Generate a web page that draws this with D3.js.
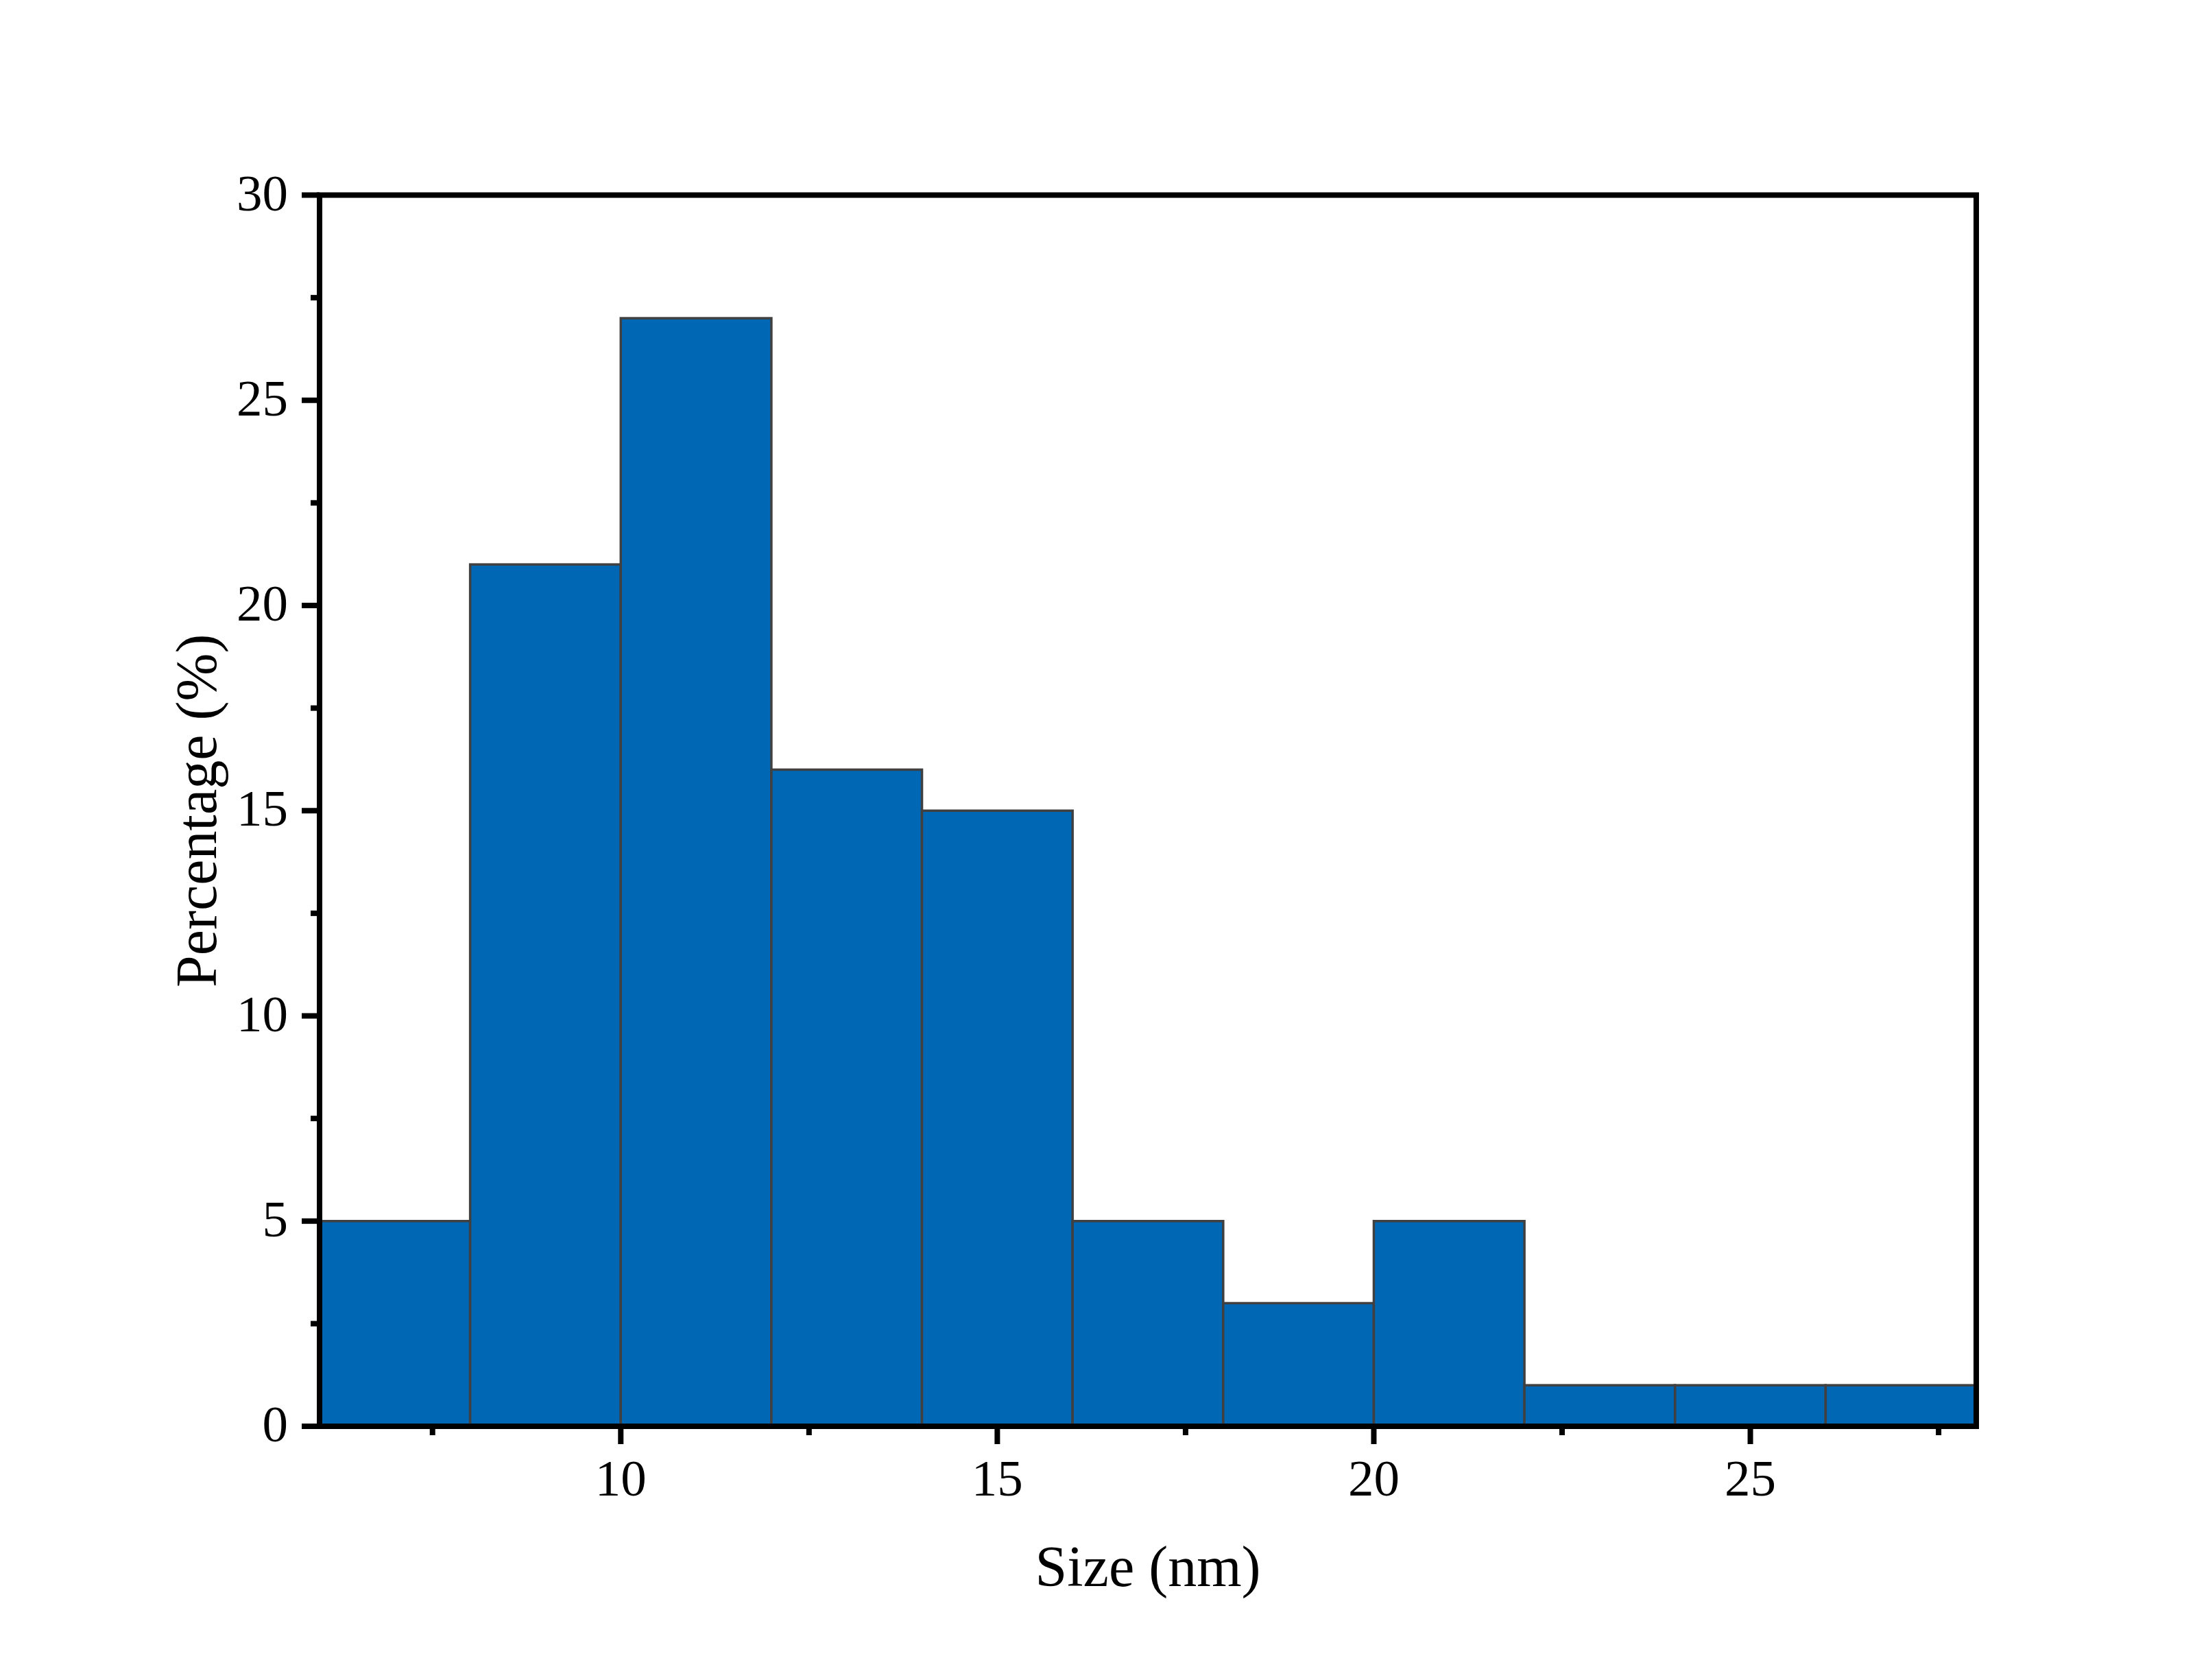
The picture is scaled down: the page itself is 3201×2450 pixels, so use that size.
<!DOCTYPE html>
<html><head><meta charset="utf-8">
<script src="https://cdn.jsdelivr.net/npm/d3@7"></script>
<style>html,body{margin:0;padding:0;background:#fff;}</style>
</head><body>
<svg id="chart" width="3201" height="2450"></svg>
<script>
const binStarts = [6, 8, 10, 12, 14, 16, 18, 20, 22, 24, 26];
const binWidth = 2;
const percentages = [5, 21, 27, 16, 15, 5, 3, 5, 1, 1, 1];
const xTicks = [10, 15, 20, 25];
const xMinorTicks = [7.5, 12.5, 17.5, 22.5, 27.5];
const yTicks = [0, 5, 10, 15, 20, 25, 30];
const yMinorTicks = [2.5, 7.5, 12.5, 17.5, 22.5, 27.5];
const xTitle = "Size (nm)";
const yTitle = "Percentage (%)";

const svg = d3.select("#chart");
const L = 466, R = 2882, T = 284.5, B = 2080;
const x = d3.scaleLinear().domain([6, 28]).range([L, R]);
const y = d3.scaleLinear().domain([0, 30]).range([B, T]);
const font = "'Liberation Serif','Times New Roman',serif";

// bars
svg.append("g").selectAll("rect").data(binStarts).join("rect")
  .attr("x", d => x(d))
  .attr("y", (d, i) => y(percentages[i]))
  .attr("width", d => x(d + binWidth) - x(d))
  .attr("height", (d, i) => y(0) - y(percentages[i]))
  .attr("fill", "#0067B5")
  .attr("stroke", "#404040")
  .attr("stroke-width", 3.5);

// frame
svg.append("rect").attr("x", L).attr("y", T).attr("width", R - L).attr("height", B - T)
  .attr("fill", "none").attr("stroke", "#000").attr("stroke-width", 8);

const tickW = 8;
// bottom axis
const xAxis = svg.append("g");
xAxis.selectAll("line.maj").data(xTicks).join("line")
  .attr("x1", d => x(d)).attr("x2", d => x(d))
  .attr("y1", B).attr("y2", B + 26)
  .attr("stroke", "#000").attr("stroke-width", tickW);
xAxis.selectAll("line.min").data(xMinorTicks).join("line")
  .attr("x1", d => x(d)).attr("x2", d => x(d))
  .attr("y1", B).attr("y2", B + 13)
  .attr("stroke", "#000").attr("stroke-width", tickW);
xAxis.selectAll("text").data(xTicks).join("text")
  .attr("x", d => x(d)).attr("y", 2181)
  .attr("text-anchor", "middle")
  .attr("font-family", font).attr("font-size", 75)
  .text(d => d);

// left axis
const yAxis = svg.append("g");
yAxis.selectAll("line.maj").data(yTicks).join("line")
  .attr("x1", L - 26).attr("x2", L)
  .attr("y1", d => y(d)).attr("y2", d => y(d))
  .attr("stroke", "#000").attr("stroke-width", tickW);
yAxis.selectAll("line.min").data(yMinorTicks).join("line")
  .attr("x1", L - 13).attr("x2", L)
  .attr("y1", d => y(d)).attr("y2", d => y(d))
  .attr("stroke", "#000").attr("stroke-width", tickW);
yAxis.selectAll("text").data(yTicks).join("text")
  .attr("x", 420).attr("y", d => y(d) + 22)
  .attr("text-anchor", "end")
  .attr("font-family", font).attr("font-size", 75)
  .text(d => d);

// titles
svg.append("text").attr("x", (L + R) / 2).attr("y", 2313)
  .attr("text-anchor", "middle")
  .attr("font-family", font).attr("font-size", 84)
  .text(xTitle);
svg.append("text")
  .attr("transform", `translate(315,${(T + B) / 2}) rotate(-90)`)
  .attr("text-anchor", "middle")
  .attr("font-family", font).attr("font-size", 84)
  .text(yTitle);
</script>
</body></html>
